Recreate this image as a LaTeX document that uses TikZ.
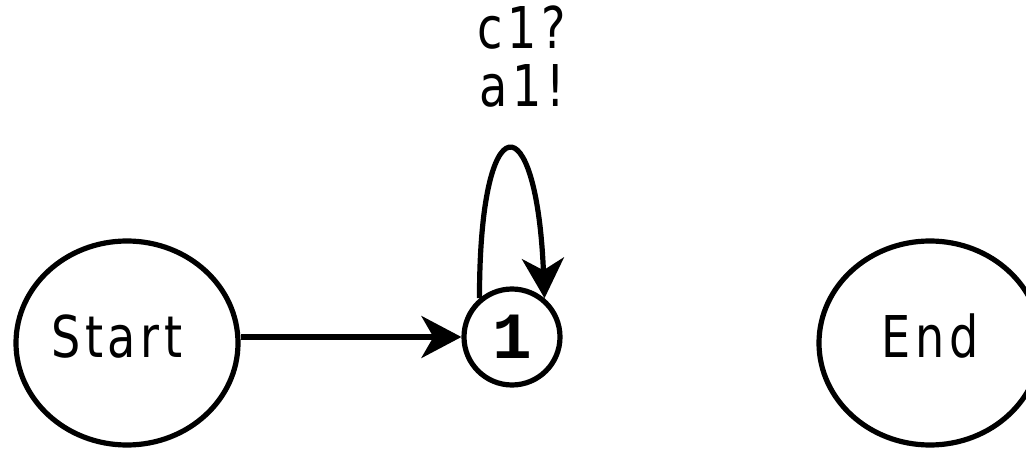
\documentclass[tikz,border=0pt]{standalone}
\usepackage{fontspec}
\usetikzlibrary{positioning,arrows.meta,shapes.geometric}
\newfontfamily\statefont{DejaVu Sans}[FakeStretch=0.8,LetterSpace=8]
\newfontfamily\numfont{Liberation Mono}

\begin{document}
\begin{tikzpicture}[x=1pt,y=-1pt,
  state/.style={draw,ellipse,line width=5.2pt,inner sep=0pt,
    minimum width=222pt,minimum height=204pt,text depth=14pt,
    font=\statefont\fontsize{57.6}{58}\selectfont},
  numstate/.style={draw,circle,line width=5.2pt,inner sep=0pt,
    minimum size=96pt,font=\numfont\bfseries\fontsize{66}{66}\selectfont},
  trans/.style={line width=5.2pt,-{Stealth[length=40pt,width=42pt,inset=12pt]}},
  translabel/.style={align=center,font=\statefont\fontsize{57.6}{58}\selectfont}]
  \useasboundingbox (0,0) rectangle (1026,449);
  % states
  \node[state] (start) at (127,343) {Start\kern20pt};
  \node[numstate] (one) at (512,337) {1};
  \node[state] (end) at (930,343) {End};
  % transitions
  \draw[trans] (one -| start.east) -- (one.west);
  \draw[trans] (one.130) .. controls +(0,-197) and +(-8,-197) .. (one.50);
  \node[translabel] (loop) at (522,57) {c1?\\a1!};
\end{tikzpicture}
\end{document}
